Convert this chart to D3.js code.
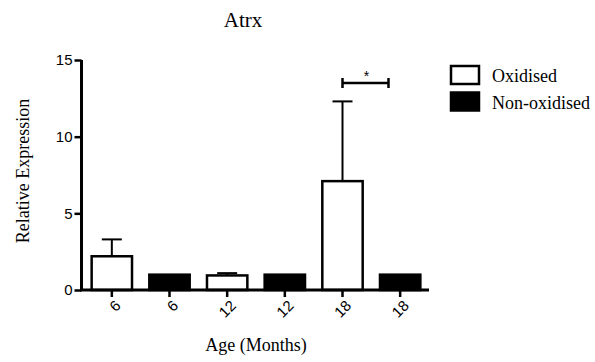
<!DOCTYPE html>
<head>
<meta charset="utf-8">
<script src="https://d3js.org/d3.v7.min.js"></script>
<style>
body{ margin:0; background:#fff; }
</style>
</head>
<body>
<script>
const categories = ["6", "6", "12", "12", "18", "18"];
const groups     = ["Oxidised", "Non-oxidised", "Oxidised", "Non-oxidised", "Oxidised", "Non-oxidised"];
const means      = [2.2, 1.0, 0.95, 1.0, 7.1, 1.0];
const errors     = [1.1, 0, 0.15, 0, 5.2, 0];
const yTicks     = [0, 5, 10, 15];
const legendItems = ["Oxidised", "Non-oxidised"];

const SERIF = "Liberation Serif";
const SANS  = "Liberation Sans";

const width = 595, height = 362;
const svg = d3.select("body").append("svg")
   .attr("width", width)
   .attr("height", height);

const idx = d3.range(categories.length);

const x = d3.scaleBand()
   .domain(idx)
   .range([83, 429])
   .paddingInner(0.3)
   .paddingOuter(0.15);

const y = d3.scaleLinear()
   .domain([0, 15])
   .range([290, 60]);

// bars
svg.selectAll("rect.bar")
   .data(idx)
   .enter()
   .append("rect")
   .attr("class", "bar")
   .attr("x", i => x(i))
   .attr("y", i => y(means[i]))
   .attr("width", x.bandwidth())
   .attr("height", i => y(0) - y(means[i]))
   .attr("fill", i => groups[i] == "Oxidised" ? "#fff" : "#000")
   .attr("stroke", "#000")
   .attr("stroke-width", 2.5);

// error bars (upper only)
const err = svg.selectAll("g.err")
   .data(idx.filter(i => errors[i] > 0))
   .enter()
   .append("g")
   .attr("class", "err")
   .attr("stroke", "#000")
   .attr("stroke-width", 2);

err.append("line")
   .attr("x1", i => x(i) + x.bandwidth()/2)
   .attr("x2", i => x(i) + x.bandwidth()/2)
   .attr("y1", i => y(means[i]))
   .attr("y2", i => y(means[i] + errors[i]));

err.append("line")
   .attr("x1", i => x(i) + x.bandwidth()/2 - 10)
   .attr("x2", i => x(i) + x.bandwidth()/2 + 10)
   .attr("y1", i => y(means[i] + errors[i]))
   .attr("y2", i => y(means[i] + errors[i]));

// axes
const yAxis = d3.axisLeft(y).tickValues(yTicks).tickSize(7).tickPadding(2);
const gy = svg.append("g")
   .attr("transform", "translate(81.5,0)")
   .call(yAxis);
gy.select(".domain").attr("stroke-width", 3).attr("d", `M0,${y(15)}V${y(0)}`);
gy.selectAll(".tick line").attr("stroke-width", 2.5);
gy.selectAll(".tick text")
   .style("font-family", SANS)
   .style("font-size", "15px")
   .style("fill", "#000");

const xAxis = d3.axisBottom(x).tickFormat("").tickSize(7).tickSizeOuter(0);
const gx = svg.append("g")
   .attr("transform", `translate(0,${y(0)})`)
   .call(xAxis);
gx.select(".domain").attr("stroke-width", 3).attr("d", "M80,0H429");
gx.selectAll(".tick line").attr("stroke-width", 2.5);

// rotated category labels
svg.selectAll("g.xlab")
   .data(idx)
   .enter()
   .append("g")
   .attr("class", "xlab")
   .attr("transform", i => `translate(${x(i) + x.bandwidth()/2 + 6},${y(0) + 13}) rotate(-45)`)
   .append("text")
   .attr("text-anchor", "end")
   .attr("dy", "0.35em")
   .style("font-family", SANS)
   .style("font-size", "15px")
   .text(i => categories[i]);

// significance bracket
const b5 = x(4) + x.bandwidth()/2;
const by = y(13.5);
const sig = svg.append("g").attr("stroke", "#000").attr("stroke-width", 2.5);
sig.append("line").attr("x1", b5).attr("x2", b5 + 46).attr("y1", by).attr("y2", by);
sig.append("line").attr("x1", b5).attr("x2", b5).attr("y1", by - 5).attr("y2", by + 5);
sig.append("line").attr("x1", b5 + 46).attr("x2", b5 + 46).attr("y1", by - 5).attr("y2", by + 5);
svg.append("text")
   .attr("x", b5 + 24)
   .attr("y", by - 2)
   .attr("text-anchor", "middle")
   .style("font-family", SANS)
   .style("font-size", "14px")
   .text("*");

// titles
svg.append("text")
   .attr("x", 243)
   .attr("y", 27)
   .attr("text-anchor", "middle")
   .style("font-family", SERIF)
   .style("font-size", "21px")
   .text("Atrx");

svg.append("text")
   .attr("transform", "translate(29,171) rotate(-90)")
   .attr("text-anchor", "middle")
   .style("font-family", SERIF)
   .style("font-size", "18px")
   .text("Relative Expression");

svg.append("text")
   .attr("x", 256)
   .attr("y", 351)
   .attr("text-anchor", "middle")
   .style("font-family", SERIF)
   .style("font-size", "18px")
   .text("Age (Months)");

// legend
const leg = svg.selectAll("g.leg")
   .data(legendItems)
   .enter()
   .append("g")
   .attr("class", "leg")
   .attr("transform", (d, i) => `translate(451,${66 + i * 26.5})`);

leg.append("rect")
   .attr("width", 28)
   .attr("height", 18)
   .attr("fill", (d, i) => i == 0 ? "#fff" : "#000")
   .attr("stroke", "#000")
   .attr("stroke-width", 2.5);

leg.append("text")
   .attr("x", 41)
   .attr("y", 16)
   .style("font-family", SERIF)
   .style("font-size", "18px")
   .text(d => d);
</script>
</body>
